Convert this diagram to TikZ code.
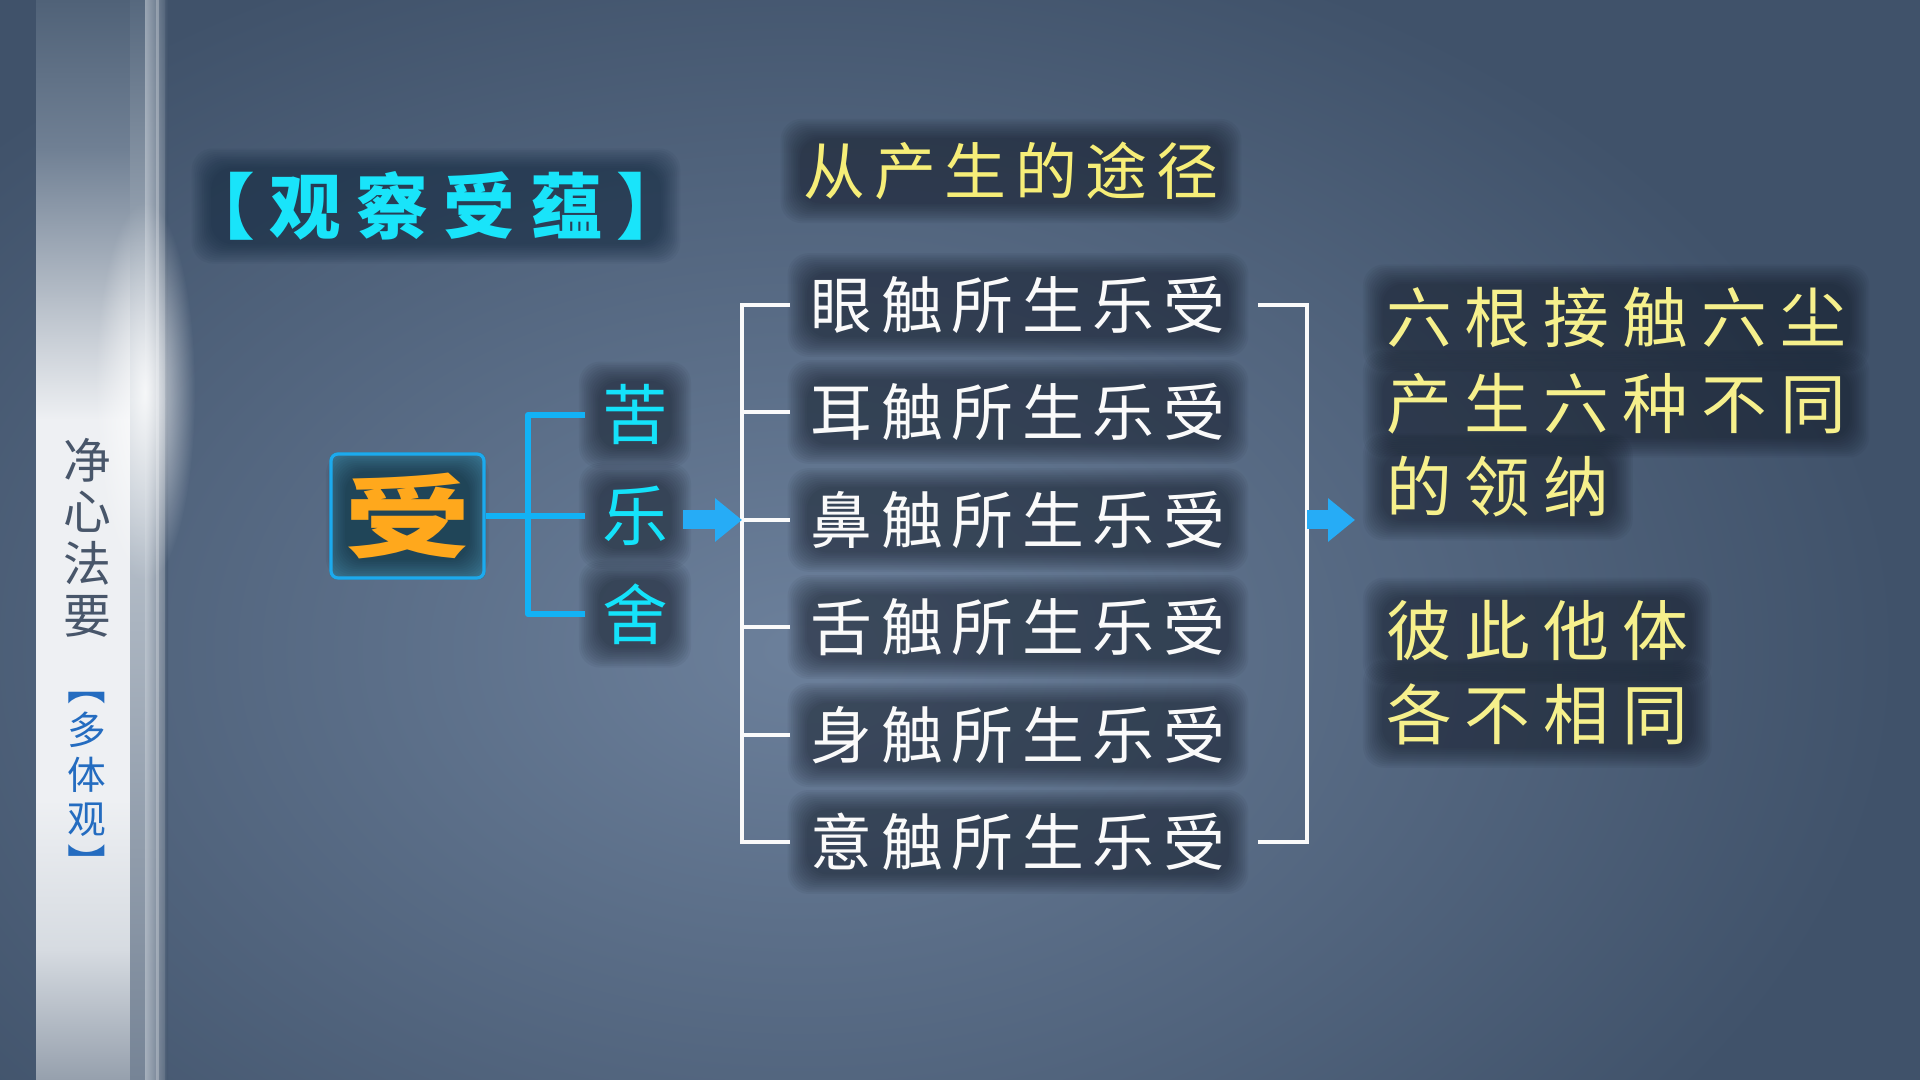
\documentclass[tikz,border=0pt]{standalone}
\usepackage{fontspec}
\usepackage{graphicx}
\setmainfont{Noto Sans CJK SC}
\newfontfamily\titlefont[LetterSpace=21]{Noto Sans CJK SC}
\newfontfamily\rowfont[LetterSpace=14]{Noto Sans CJK SC}
\newfontfamily\notefont[LetterSpace=20]{Noto Sans CJK SC}
\usetikzlibrary{arrows.meta,positioning,calc,backgrounds,fadings}

\definecolor{bgouter}{RGB}{64,82,106}
\definecolor{bginner}{RGB}{108,128,155}
\definecolor{titlecyan}{RGB}{25,228,250}
\definecolor{kindcyan}{RGB}{20,226,250}
\definecolor{linecyan}{RGB}{18,178,245}
\definecolor{arrowblue}{RGB}{38,172,246}
\definecolor{boxblue}{RGB}{28,170,238}
\definecolor{boxfill}{RGB}{58,118,146}
\definecolor{shouorange}{RGB}{255,168,28}
\definecolor{routeyellow}{RGB}{246,238,120}
\definecolor{noteyellow}{RGB}{246,240,140}
\definecolor{rowwhite}{RGB}{250,250,250}
\definecolor{sidegray}{RGB}{72,86,106}
\definecolor{sideblue}{RGB}{36,108,192}
\definecolor{halodark}{RGB}{14,20,32}
\definecolor{titleglow}{RGB}{8,30,52}
\definecolor{stripTop}{RGB}{80,98,120}
\definecolor{stripA}{RGB}{112,128,148}
\definecolor{stripB}{RGB}{182,190,200}
\definecolor{stripC}{RGB}{238,240,243}
\definecolor{stripD}{RGB}{214,219,225}
\definecolor{stripE}{RGB}{150,160,173}
\definecolor{bandtop}{RGB}{86,104,126}
\definecolor{bandmid}{RGB}{196,204,213}
\definecolor{bandbot}{RGB}{118,132,150}

\tikzfading[name=glowfade, inner color=transparent!15, outer color=transparent!100]

\tikzstyle{titletext}=[inner sep=0pt,text=titlecyan,font=\titlefont\bfseries\fontsize{20.4pt}{24pt}\selectfont]
\tikzstyle{routetext}=[inner sep=0pt,text=routeyellow,font=\rowfont\fontsize{17.6pt}{21pt}\selectfont]
\tikzstyle{rowtext}=[inner sep=0pt,text=rowwhite,font=\rowfont\fontsize{17.6pt}{21pt}\selectfont]
\tikzstyle{notetext}=[inner sep=0pt,anchor=west,text=noteyellow,font=\notefont\fontsize{18.7pt}{24pt}\selectfont]
\tikzstyle{kindtext}=[inner sep=0pt,text=kindcyan,font=\fontsize{18.7pt}{22pt}\selectfont]
\tikzstyle{shoubox}=[draw=boxblue,line width=0.9pt,rounded corners=2pt,minimum width=1.53cm,minimum height=1.24cm,inner sep=0pt,text=shouorange,font=\bfseries\fontsize{36pt}{36pt}\selectfont]
\tikzstyle{sidetext}=[inner sep=0pt,align=center,text=sidegray,font=\fontsize{13.6pt}{14.7pt}\selectfont]
\tikzstyle{sidemark}=[inner sep=0pt,align=center,text=sideblue,font=\fontsize{11pt}{12.6pt}\selectfont]
\tikzstyle{cyanline}=[draw=linecyan,line width=1.7pt,line join=round]
\tikzstyle{whiteline}=[draw=rowwhite,line width=1.3pt]
\tikzstyle{bluearrow}=[draw=arrowblue,line width=0.19cm,-{Triangle[length=0.27cm,width=0.42cm]}]
\tikzstyle{halo}=[fill=halodark,fill opacity=0.05,rounded corners=6pt]

\newcommand{\halo}[4][halodark]{%
  \foreach \r in {1,...,12}{%
    \fill[halo,fill=#1] ($(#2.south west)+(#3,#4)+(-\r*0.5pt,-\r*0.5pt)$) rectangle ($(#2.north east)-(#3,#4)+(\r*0.5pt,\r*0.5pt)$);}}

\begin{document}
\begin{tikzpicture}[very thick]
    \useasboundingbox (0,0) rectangle (19.2,10.8);
    \node [titletext] (title) at (4.36,8.74) {【观察受蕴】};
    \node [routetext] (route) at (10.11,9.09) {从产生的途径};
    \node [shoubox] (shou) at (4.075,5.64) {\scalebox{1}[0.72]{受}};
    \node [kindtext] (ku) at (6.35,6.65) {苦};
    \node [kindtext] (le) at (6.35,5.64) {乐};
    \node [kindtext] (she) at (6.35,4.66) {舍};
    \node [rowtext] (row1) at (10.18,7.75) {眼触所生乐受};
    \node [rowtext] (row2) at (10.18,6.68) {耳触所生乐受};
    \node [rowtext] (row3) at (10.18,5.60) {鼻触所生乐受};
    \node [rowtext] (row4) at (10.18,4.53) {舌触所生乐受};
    \node [rowtext] (row5) at (10.18,3.45) {身触所生乐受};
    \node [rowtext] (row6) at (10.18,2.38) {意触所生乐受};
    \node [notetext] (note1) at (13.84,7.62) {六根接触六尘};
    \node [notetext] (note2) at (13.84,6.76) {产生六种不同};
    \node [notetext] (note3) at (13.84,5.93) {的领纳};
    \node [notetext] (note4) at (13.84,4.49) {彼此他体};
    \node [notetext] (note5) at (13.84,3.66) {各不相同};
    \node [sidetext] (side) at (0.87,5.425) {净\\心\\法\\要};
    \node [sidemark] (mark) at (0.87,2.95) {︻\\多\\体\\观\\︼};

    \coordinate (brC) at (5.28,5.64);
    \coordinate (brL) at (7.42,5.60);
    \coordinate (brR) at (13.07,5.60);
    \coordinate (a1) at (6.83,5.60);
    \coordinate (a2) at (13.55,5.60);

    \draw [cyanline] (shou.east) -- ([xshift=-4.3pt]le.west);
    \draw [cyanline] ([xshift=-4.3pt]ku.west) -| (brC) |- ([xshift=-4.3pt]she.west);
    \draw [whiteline] ([xshift=-5.4pt]row1.west) -| (brL) |- ([xshift=-5.4pt]row6.west);
    \draw [whiteline] ([xshift=-5.4pt]row2.west) -- (row2 -| brL);
    \draw [whiteline] ([xshift=-5.4pt]row3.west) -- (row3 -| brL);
    \draw [whiteline] ([xshift=-5.4pt]row4.west) -- (row4 -| brL);
    \draw [whiteline] ([xshift=-5.4pt]row5.west) -- (row5 -| brL);
    \draw [whiteline] ([xshift=8.8pt]row1.east) -| (brR) |- ([xshift=8.8pt]row6.east);
    \draw [bluearrow] (a1) -- (brL);
    \draw [bluearrow] (brR) -- (a2);

    \begin{scope}[on background layer]
      \fill [bgouter] (0,0) rectangle (19.2,10.8);
      \shade [inner color=bginner,outer color=bgouter] (8,4.3) ellipse (11 and 7.5);
      \shade [top color=stripTop,bottom color=stripA] (0.36,9.3) rectangle (1.30,10.8);
      \shade [top color=stripA,bottom color=stripB] (0.36,7.8) rectangle (1.30,9.31);
      \shade [top color=stripB,bottom color=stripC] (0.36,6.6) rectangle (1.30,7.81);
      \fill [stripC] (0.36,2.8) rectangle (1.30,6.61);
      \shade [top color=stripC,bottom color=stripD] (0.36,1.3) rectangle (1.30,2.81);
      \shade [top color=stripD,bottom color=stripE] (0.36,0) rectangle (1.30,1.31);
      \shade [top color=bandtop,bottom color=bandmid] (1.30,6.8) rectangle (1.65,10.8);
      \shade [top color=bandmid,bottom color=bandbot] (1.30,0) rectangle (1.65,6.81);
      \shade [left color=bandmid,right color=bgouter,opacity=0.6] (1.45,0) rectangle (1.68,10.8);
      \fill [white,opacity=0.25] (1.56,0) rectangle (1.59,10.8);
      \fill [white,path fading=glowfade] (1.45,6.88) ellipse (0.5 and 1.9);
      \fill [boxfill,rounded corners=2pt] (shou.south west) rectangle (shou.north east);
      \halo[titleglow]{title}{9pt}{0pt}
      \halo{route}{0pt}{0pt}
      \halo{shou}{5pt}{6pt}
      \halo{ku}{0pt}{0pt}
      \halo{le}{0pt}{0pt}
      \halo{she}{0pt}{0pt}
      \halo{row1}{0pt}{0pt}
      \halo{row2}{0pt}{0pt}
      \halo{row3}{0pt}{0pt}
      \halo{row4}{0pt}{0pt}
      \halo{row5}{0pt}{0pt}
      \halo{row6}{0pt}{0pt}
      \halo{note1}{0pt}{0pt}
      \halo{note2}{0pt}{0pt}
      \halo{note3}{0pt}{0pt}
      \halo{note4}{0pt}{0pt}
      \halo{note5}{0pt}{0pt}
    \end{scope}
\end{tikzpicture}
\end{document}
